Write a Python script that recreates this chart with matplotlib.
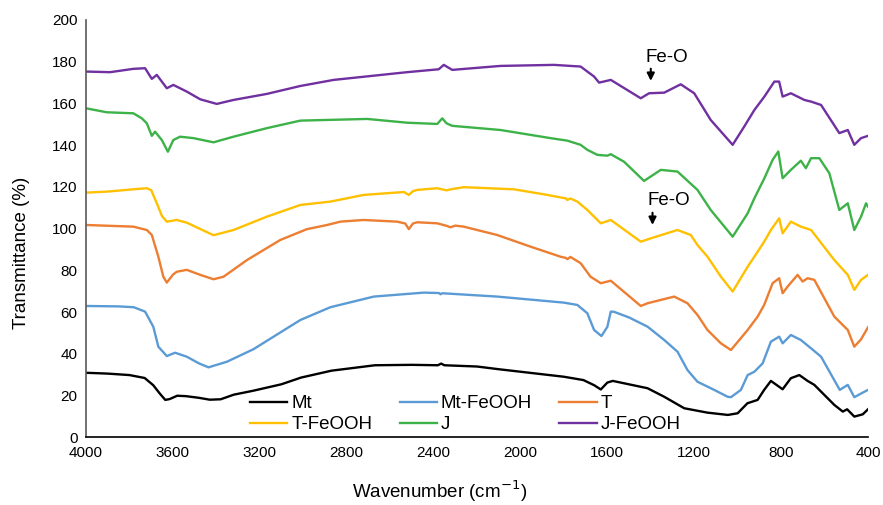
import matplotlib.pyplot as plt

plt.rcParams['font.family'] = ['Liberation Sans', 'DejaVu Sans']

# Mt
w_mt = [4000, 3900, 3800, 3730, 3690, 3660, 3635, 3615, 3580, 3540, 3480, 3430, 3380, 3320,
        3230, 3100, 3010, 2870, 2670, 2500, 2380, 2365, 2350, 2200, 2100, 1800, 1710, 1660,
        1630, 1600, 1575, 1415, 1338, 1246, 1139, 1045, 1000, 955, 908, 878, 847, 793, 755,
        716, 678, 647, 555, 516, 496, 463, 424, 400]
v_mt = [31, 30.6, 29.9, 28.5, 25, 21, 18, 18.4, 20, 19.8, 19, 18.1, 18.3, 20.5,
        22.4, 25.5, 28.7, 32, 34.6, 34.8, 34.6, 35.4, 34.6, 34, 32.7, 29.1, 27.5, 25,
        23, 26.3, 27.1, 23.6, 19.5, 14, 11.9, 10.8, 11.6, 16.4, 18, 22.8, 27.1, 23.1, 28.4,
        29.9, 27.1, 25.2, 15.6, 12.4, 13.5, 10, 11.1, 13.5]

# Mt-FeOOH
w_mtf = [4000, 3850, 3780, 3728, 3690, 3667, 3628, 3590, 3536, 3480, 3436, 3351, 3229, 3013,
         2875, 2675, 2445, 2375, 2368, 2360, 2107, 1800, 1738, 1692, 1661, 1627, 1600, 1584,
         1569, 1500, 1415, 1338, 1277, 1231, 1185, 1108, 1046, 1031, 985, 954, 923, 885, 847,
         809, 793, 755, 709, 662, 616, 530, 493, 463, 424, 400]
v_mtf = [63, 62.8, 62.4, 60.3, 53, 43.5, 39, 40.6, 38.7, 35.5, 33.6, 36.3, 42.3, 56.3,
         62.4, 67.5, 69.4, 69.2, 68.6, 69.1, 67.5, 64.6, 63.5, 59.5, 51.5, 48.6, 53, 60.3,
         60.2, 57.5, 53.1, 46.7, 41.1, 32.3, 26.7, 22.8, 19.5, 19.3, 22.8, 29.9, 31.5, 35.5, 45.9,
         48.3, 45.1, 49.1, 46.7, 42.7, 38.7, 22.8, 25.2, 19.3, 21.5, 22.8]

# T
w_t = [4000, 3782, 3720, 3697, 3667, 3644, 3628, 3600, 3582, 3536, 3474, 3413, 3367, 3259,
       3106, 2983, 2890, 2829, 2722, 2568, 2530, 2514, 2495, 2475, 2383, 2340, 2322, 2300,
       2261, 2107, 1953, 1815, 1790, 1784, 1770, 1723, 1677, 1630, 1584, 1446, 1415, 1292,
       1231, 1185, 1139, 1077, 1031, 954, 908, 878, 839, 809, 793, 770, 724, 701, 678, 647,
       555, 493, 463, 432, 400]
v_t = [101.8, 101, 99.4, 97, 86.6, 77, 74.2, 78, 79.4, 80.3, 77.9, 75.8, 77, 85,
       94.6, 99.8, 101.8, 103.4, 104.2, 103.4, 102.5, 99.8, 102.5, 103.1, 102.6, 101.4, 100.7, 101.5,
       101, 97, 91.4, 86.6, 86, 85.4, 86.5, 83.5, 77, 73.9, 75.1, 63, 64.3, 67.5,
       64.3, 58.7, 51.5, 45.1, 41.9, 51.5, 57.9, 63.5, 73.9, 76.3, 69.1, 72.3, 77.9, 74.7, 76.3, 75.5,
       57.9, 51.5, 43.5, 47, 52.8]

# T-FeOOH
w_tf = [4000, 3900, 3782, 3720, 3700, 3674, 3650, 3628, 3582, 3536, 3413, 3321, 3167, 3013,
        2875, 2722, 2537, 2514, 2495, 2475, 2383, 2340, 2320, 2261, 2030, 1876, 1790, 1784,
        1770, 1738, 1692, 1630, 1584, 1446, 1400, 1277, 1216, 1185, 1139, 1077, 1023, 954,
        908, 878, 847, 809, 793, 755, 709, 662, 555, 493, 463, 432, 400]
v_tf = [117.3, 117.8, 118.9, 119.4, 118.5, 112.2, 106, 103.4, 104.2, 102.9, 96.9, 99.4, 105.8, 111.4,
        113, 116.2, 117.6, 116.2, 118, 118.6, 119.4, 118.4, 118.9, 119.9, 118.9, 116.2, 114.5, 113.8,
        114.5, 113, 109, 102.6, 104.2, 93.8, 95.4, 99.4, 97, 92.2, 86.6, 77, 69.9, 81.8,
        89, 93.8, 99.4, 105, 97.8, 103.4, 101, 99.4, 85, 77.9, 70.7, 75.5, 77.9]

# J
w_j = [4000, 3905, 3782, 3743, 3720, 3697, 3682, 3651, 3623, 3598, 3567, 3505, 3413, 3321,
       3167, 3013, 2706, 2522, 2383, 2360, 2340, 2314, 2092, 1861, 1784, 1723, 1692, 1646,
       1600, 1584, 1523, 1431, 1354, 1277, 1185, 1124, 1023, 954, 923, 877, 839, 813, 793,
       755, 709, 686, 662, 624, 578, 532, 493, 463, 432, 409, 400]
v_j = [157.7, 155.8, 155.3, 152.9, 150.5, 144.5, 146.5, 142.5, 136.9, 142.5, 144.1, 143.4, 141.4, 144.1,
       148.2, 151.8, 152.6, 150.8, 150.2, 152.9, 150.5, 149.3, 147.3, 143.4, 142.2, 140.2, 137.8, 135.4,
       135, 135.7, 132.1, 122.9, 128.2, 127.4, 118.6, 109, 96.2, 107.4, 114.6, 124.2, 133, 137, 124.2,
       128.2, 132.6, 129, 133.8, 133.8, 126.6, 109, 112.2, 99.4, 105.8, 112.2, 110.6]

# J-FeOOH
w_jf = [4000, 3889, 3782, 3728, 3697, 3674, 3628, 3598, 3536, 3474, 3398, 3321, 3167, 3013,
        2860, 2522, 2376, 2353, 2314, 2092, 1846, 1723, 1661, 1638, 1584, 1446, 1408, 1338,
        1262, 1200, 1124, 1023, 970, 923, 877, 831, 809, 793, 755, 693, 662, 616, 532, 493,
        463, 432, 400]
v_jf = [175.3, 175, 176.6, 176.9, 171.8, 173.7, 167.3, 168.9, 165.7, 162, 159.8, 161.7, 164.6, 168.4,
        171.3, 175, 176.4, 178.5, 176.1, 178, 178.5, 177.7, 172.9, 170, 171.3, 162.5, 164.9, 165.2,
        169.2, 164.9, 152.1, 140.2, 148.9, 156.9, 163.3, 170.5, 170.5, 163.3, 164.9, 161.7, 160.9, 159.3, 145.8, 147.3,
        140.2, 143.4, 144.5]

series = [("Mt", w_mt, v_mt, "black"),
          ("Mt-FeOOH", w_mtf, v_mtf, "#5B9BD5"),
          ("T", w_t, v_t, "#ED7D31"),
          ("T-FeOOH", w_tf, v_tf, "#FFC000"),
          ("J", w_j, v_j, "#3DB249"),
          ("J-FeOOH", w_jf, v_jf, "#7030A0")]

fig = plt.figure(figsize=(8.83, 5.05), dpi=100)
ax = fig.add_axes([0.0974, 0.1337, 0.8856, 0.8267])

lines = []
for name, w, v, c in series:
    ln, = ax.plot(w, v, color=c, lw=1.7, label=name)
    lines.append(ln)

ax.set_xlim(4000, 400)
ax.set_ylim(0, 200)
ax.set_xticks(range(4000, 399, -400))
ax.set_yticks(range(0, 201, 20))
ax.tick_params(length=0, labelsize=11, pad=6)
for s in ["top", "right"]:
    ax.spines[s].set_visible(False)
ax.spines["left"].set_color("#595959")
ax.spines["bottom"].set_color("black")
ax.spines["left"].set_linewidth(1.2)
ax.spines["bottom"].set_linewidth(1.2)

fig.text(440 / 883, 1 - 491 / 505, "Wavenumber (cm$^{-1}$)", fontsize=13.5,
         ha="center", va="center")
fig.text(22 / 883, 1 - 253 / 505, "Transmittance (%)", fontsize=13.5,
         ha="center", va="center", rotation=90)

# Fe-O markers
ax.annotate("", xy=(1400, 169.5), xytext=(1400, 178),
            arrowprops=dict(arrowstyle="-|>", color="black", lw=1.5, mutation_scale=11))
ax.text(1326, 181.8, "Fe-O", fontsize=13.5, ha="center", va="center")
ax.annotate("", xy=(1392, 100.5), xytext=(1392, 109),
            arrowprops=dict(arrowstyle="-|>", color="black", lw=1.5, mutation_scale=11))
ax.text(1318, 113.5, "Fe-O", fontsize=13.5, ha="center", va="center")

# legend filled row by row like the original
order = [0, 3, 1, 4, 2, 5]
ax.legend([lines[i] for i in order], [series[i][0] for i in order],
          ncol=3, loc="lower center", bbox_to_anchor=(0.485, -0.03), frameon=False,
          fontsize=13.5, handlelength=2.0, handletextpad=0.2, columnspacing=1.46,
          labelspacing=0.2)

plt.savefig("out.png", dpi=100)
